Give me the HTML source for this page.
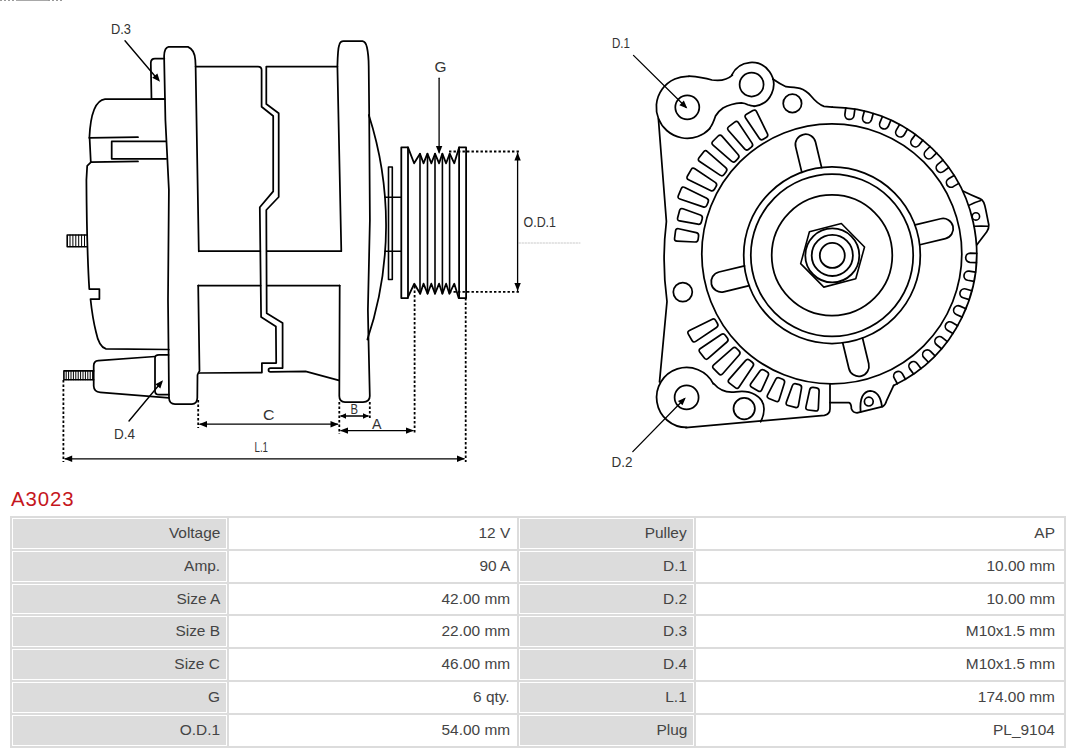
<!DOCTYPE html>
<html><head><meta charset="utf-8"><style>
html,body{margin:0;padding:0;background:#fff;width:1080px;height:753px;overflow:hidden;position:relative;font-family:"Liberation Sans",sans-serif;}
svg{position:absolute;left:0;top:0;}
.topline{position:absolute;left:0;top:0;width:64px;height:1px;background:repeating-linear-gradient(90deg,#999 0 2px,#fff 2px 4px);}.topline2{position:absolute;left:16px;top:0;width:32px;height:1px;background:#a8a8a8;}
h1{position:absolute;left:11px;top:485.5px;margin:0;font-weight:normal;font-size:20.4px;line-height:26px;color:#c5161d;letter-spacing:0.9px;}
.tbl{position:absolute;left:10px;top:516px;width:1056px;height:231.5px;background:#dcdcdc;}
.c{position:absolute;height:28.83px;border:1px solid #fff;background:#fff;box-sizing:content-box;font-size:14.2px;color:#444;text-align:right;line-height:28.83px;}
.c span{position:absolute;right:6px;top:0;white-space:nowrap;display:inline-block;transform:scaleX(1.087);transform-origin:100% 50%;}
.g{background:#dcdcdc;}
</style></head><body>
<div class="topline"></div><div class="topline2"></div>
<svg width="1080" height="480" viewBox="0 0 1080 480">
<g fill="none" stroke="#000" stroke-linecap="round" stroke-linejoin="round">
<path d="M164.7,99.2 L105,99.2 Q91,101 89.4,137.8" stroke-width="1.75" />
<path d="M89.4,137.8 L138,137.2" stroke-width="1.75" />
<path d="M89.6,138 L90.8,162.2" stroke-width="1.75" />
<path d="M91,162.2 L138,161.4" stroke-width="1.75" />
<path d="M165.6,141.4 L111.7,141.4 L111.7,158.8 L166.2,158.8" stroke-width="1.75" />
<path d="M91,162.2 L87.2,165.8 L86.4,180 Q86.8,250 89.3,289.1 L99.4,289.1 L99.4,299 L90.5,299 Q92.5,318 96,332 Q99,347 106,348.9 L168.8,349.5" stroke-width="1.75" />
<path d="M86.5,235 L67.2,235 L67.2,246.7 L86.5,246.7" stroke-width="1.6" />
<path d="M70,235 L70,246.7" stroke-width="1.0" />
<path d="M72.9,235 L72.9,246.7" stroke-width="1.0" />
<path d="M75.8,235 L75.8,246.7" stroke-width="1.0" />
<path d="M78.7,235 L78.7,246.7" stroke-width="1.0" />
<path d="M81.6,235 L81.6,246.7" stroke-width="1.0" />
<path d="M84.5,235 L84.5,246.7" stroke-width="1.0" />
<path d="M198.8,251.3 L195.6,66 L195.3,60 Q194.5,49.5 188,46.9 L168.5,46.9 Q164.5,47.5 164.1,56 L165.4,120 L168.9,190 L168.7,215 L168,300 L168.6,355 L169,398 Q169.3,404 175,404 L192,404 Q197,404 197.3,398 L197.5,375 Q198.5,372 199.5,371 L198.2,285.5" stroke-width="1.75" />
<path d="M164,99.2 L151.5,99.2 L150.8,63 Q150.8,58.6 155,58.6 L164.3,58.6" stroke-width="1.75" />
<path d="M195.6,66.5 L258,66.5 Q261.6,66.5 261.6,70 L261.6,106.7 L273.2,116 L273.2,191.4 L259.8,207.2 L261.1,317 L275.9,326.4 L276.2,363 L261.9,363 L261.9,372.6 L199.5,373" stroke-width="1.75" />
<path d="M337.4,66.5 L266.3,66.5 L266.3,104 L278.7,113.3 L278.7,197 L266.3,210 L266.7,313.3 L282.6,323 L282.6,368.1 L270.5,368.1 Q268.5,368.1 268.5,370 Q268.5,371.9 270.5,371.9 L305.6,371.4 L338.9,380.3" stroke-width="1.75" />
<path d="M199.3,251.1 L260.3,251.1 M266.8,251.1 L341.3,251.1" stroke-width="1.75" />
<path d="M198.2,285.5 L260.6,285.5 M266.8,285.5 L339.7,285.5" stroke-width="1.75" />
<path d="M341.3,251.1 L337.4,66 Q337.8,49 339.2,45 Q340.3,41.2 343.5,41.2 L362.5,41.2 Q365.8,41.8 367,47.5 Q368.6,55 368.7,66 L369.2,114.7 L369.9,220 L367.9,310 L368.5,340 L369.8,396 Q369.8,402 363,402 L345,402 Q339.3,402 339.3,396 L339.7,285.5" stroke-width="1.75" />
<path d="M368.8,115 A360,360 0 0 1 367.4,339.5" stroke-width="1.75" />
<path d="M388.5,279.5 L388.5,167 L392.3,167 L392.3,279.5 Z" stroke-width="1.6" />
<path d="M384.97,197.2 L401.3,197.2 M385.11,251.2 L401.3,251.2" stroke-width="1.6" />
<path d="M401.3,298.1 L401.3,147.4 L408,147.4 L408,298.1 Z" stroke-width="1.8" />
<path d="M459.1,298.1 L459.1,147.4 L466.1,147.4 L466.1,298.1 Z" stroke-width="1.8" />
<path d="M408,147.4 L414.1,163.3 L420,153.7 L423.5,163.3 L427.4,153.7 L431.4,163.3 L435,153.7 L439.1,163.3 L442.3,153.7 L446.1,163.3 L449.7,153.7 L454.3,163.3 L459.1,147.4" stroke-width="1.8" />
<path d="M408.3,296.3 L414.3,283.7 L420.2,293.7 L423.5,283.7 L427.6,293.7 L431.3,283.7 L435,293.7 L439.1,283.7 L442.4,293.7 L446.1,283.7 L449.4,293.7 L454.3,283.7 L458.7,298" stroke-width="1.8" />
<path d="M420,153.7 L420,293.7" stroke-width="1.6" />
<path d="M427.5,153.7 L427.5,293.7" stroke-width="1.6" />
<path d="M435,153.7 L435,293.7" stroke-width="1.6" />
<path d="M442.4,153.7 L442.4,293.7" stroke-width="1.6" />
<path d="M449.6,153.7 L449.6,293.7" stroke-width="1.6" />
<path d="M155,356.5 L98.3,360.7 Q93.7,361 93.7,366 L93.7,386 Q94,392 100.2,392.3 L169,397.8" stroke-width="1.75" />
<path d="M168.5,354.9 L159,354.9 Q155,354.9 155,358 L155,391 Q155,394.7 159,394.7 L168.8,394.7" stroke-width="1.75" />
<path d="M93.7,370.9 L63.9,370.9 L63.9,379.8 L93.7,379.8" stroke-width="1.6" />
<path d="M66.2,370.9 L66.2,379.8" stroke-width="1.0" />
<path d="M68.6,370.9 L68.6,379.8" stroke-width="1.0" />
<path d="M71,370.9 L71,379.8" stroke-width="1.0" />
<path d="M73.4,370.9 L73.4,379.8" stroke-width="1.0" />
<path d="M75.8,370.9 L75.8,379.8" stroke-width="1.0" />
<path d="M78.2,370.9 L78.2,379.8" stroke-width="1.0" />
<path d="M80.6,370.9 L80.6,379.8" stroke-width="1.0" />
<path d="M83,370.9 L83,379.8" stroke-width="1.0" />
<path d="M85.4,370.9 L85.4,379.8" stroke-width="1.0" />
<path d="M87.8,370.9 L87.8,379.8" stroke-width="1.0" />
<path d="M90.2,370.9 L90.2,379.8" stroke-width="1.0" />
<path d="M92.6,370.9 L92.6,379.8" stroke-width="1.0" />
<path d="M63.4,380 L63.4,462" stroke-width="1.8" stroke-dasharray="2.4,2.1" stroke-linecap="butt"/>
<path d="M198.2,400 L198.2,428" stroke-width="1.8" stroke-dasharray="2.4,2.1" stroke-linecap="butt"/>
<path d="M339.3,402 L339.3,434" stroke-width="1.8" stroke-dasharray="2.4,2.1" stroke-linecap="butt"/>
<path d="M369.8,402 L369.8,419" stroke-width="1.8" stroke-dasharray="2.4,2.1" stroke-linecap="butt"/>
<path d="M414.6,286 L414.6,433" stroke-width="1.8" stroke-dasharray="2.4,2.1" stroke-linecap="butt"/>
<path d="M465.7,298 L465.7,462" stroke-width="1.8" stroke-dasharray="2.4,2.1" stroke-linecap="butt"/>
<path d="M449,151.5 L519,151.5" stroke-width="1.8" stroke-dasharray="2.4,2.1" stroke-linecap="butt"/>
<path d="M449,291.9 L521,291.9" stroke-width="1.8" stroke-dasharray="2.4,2.1" stroke-linecap="butt"/>
<path d="M519,243 L580,243" stroke="#bbb" stroke-width="0.8" stroke-dasharray="1.5,1.5"/>
<path d="M200,424.2 L337.5,424.2" stroke-width="1.3" />
<path d="M199,424.2 L207,421 L207,427.4 Z" fill="#000" stroke="none"/>
<path d="M338.5,424.2 L330.5,427.4 L330.5,421 Z" fill="#000" stroke="none"/>
<path d="M341,416 L368,416" stroke-width="1.3" />
<path d="M340,416 L346,413.2 L346,418.8 Z" fill="#000" stroke="none"/>
<path d="M369,416 L363,418.8 L363,413.2 Z" fill="#000" stroke="none"/>
<path d="M341,430.6 L413,430.6" stroke-width="1.3" />
<path d="M340,430.6 L348,427.4 L348,433.8 Z" fill="#000" stroke="none"/>
<path d="M414,430.6 L406,433.8 L406,427.4 Z" fill="#000" stroke="none"/>
<path d="M65,458.8 L464,458.8" stroke-width="1.3" />
<path d="M64.2,458.8 L72.2,455.6 L72.2,462 Z" fill="#000" stroke="none"/>
<path d="M465,458.8 L457,462 L457,455.6 Z" fill="#000" stroke="none"/>
<path d="M517.6,153 L517.6,290.5" stroke-width="1.3" />
<path d="M517.6,152.5 L520.8,160.5 L514.4,160.5 Z" fill="#000" stroke="none"/>
<path d="M517.6,291 L514.4,283 L520.8,283 Z" fill="#000" stroke="none"/>
<path d="M439.1,78.2 L439.1,152" stroke-width="1.3" />
<path d="M439.1,154 L435.9,146 L442.3,146 Z" fill="#000" stroke="none"/>
<path d="M125,40.8 L157,78.5" stroke-width="1.4" />
<path d="M160,81.7 L152.22,77.83 L157.38,73.41 Z" fill="#000" stroke="none"/>
<path d="M129,421 L161.5,382" stroke-width="1.4" />
<path d="M163,380.2 L160.34,388.39 L155.42,384.3 Z" fill="#000" stroke="none"/>
<path d="M633.5,55.4 L686,107.2" stroke-width="1.3" />
<path d="M687.3,108.5 L679.36,105.16 L683.85,100.6 Z" fill="#000" stroke="none"/>
<path d="M632.8,451.6 L684.5,398.8" stroke-width="1.3" />
<path d="M685.8,397.4 L682.49,405.36 L677.92,400.88 Z" fill="#000" stroke="none"/>
<circle cx="832.3" cy="255.4" r="12.5" stroke-width="1.8"/>
<circle cx="832.3" cy="255.4" r="20.6" stroke-width="1.8"/>
<circle cx="832.3" cy="255.4" r="27" stroke-width="1.8"/>
<path d="M841.36,223.48 L864.53,246.98 L855.77,278.8 L823.84,287.12 L800.67,263.62 L809.43,231.8 Z" stroke-width="1.6" />
<circle cx="832" cy="255.2" r="60.3" stroke-width="1.75"/>
<circle cx="832" cy="255.2" r="81.2" stroke-width="1.75"/>
<circle cx="832" cy="255.2" r="88.3" stroke-width="1.75"/>
<path d="M919.87,244.74 L945.43,238.61 A10.2,10.2 0 0 0 940.67,218.77 L915.1,224.91" stroke-width="1.75" />
<path d="M842.76,342.97 L848.89,368.53 A10.2,10.2 0 0 0 868.73,363.77 L862.59,338.2" stroke-width="1.75" />
<path d="M744.53,265.86 L718.97,271.99 A10.2,10.2 0 0 0 723.73,291.83 L749.3,285.69" stroke-width="1.75" />
<path d="M821.64,167.63 L815.51,142.07 A10.2,10.2 0 0 0 795.67,146.83 L801.81,172.4" stroke-width="1.75" />
<circle cx="831.8" cy="253.9" r="130" stroke-width="1.75"/>
<path d="M698.58,235.99 Q698.94,233.22 696.21,232.62 L678.64,228.77 Q675.9,228.17 675.54,230.94 L674.57,238.28 Q674.21,241.06 677,241.18 L694.97,242.01 Q697.77,242.14 698.13,239.36 Z" stroke-width="1.7" />
<path d="M702.24,218.72 Q702.96,216.01 700.33,215.07 L682.94,208.82 Q680.3,207.87 679.58,210.57 L677.66,217.72 Q676.94,220.43 679.69,220.92 L697.88,224.21 Q700.64,224.71 701.36,222 Z" stroke-width="1.7" />
<path d="M708.13,202.07 Q709.2,199.48 706.69,198.24 L684.76,187.39 Q682.25,186.15 681.18,188.74 L678.34,195.58 Q677.27,198.16 679.92,199.06 L703.1,206.9 Q705.75,207.8 706.83,205.21 Z" stroke-width="1.7" />
<path d="M716.14,186.33 Q717.54,183.9 715.21,182.34 L694.88,168.73 Q692.56,167.17 691.16,169.6 L687.46,176 Q686.06,178.43 688.57,179.66 L710.52,190.46 Q713.04,191.7 714.44,189.27 Z" stroke-width="1.7" />
<path d="M726.13,171.77 Q727.84,169.55 725.73,167.7 L707.36,151.55 Q705.25,149.7 703.55,151.92 L699.04,157.79 Q697.34,160.01 699.67,161.56 L720.03,175.13 Q722.36,176.69 724.06,174.47 Z" stroke-width="1.7" />
<path d="M737.94,158.64 Q739.92,156.66 738.08,154.55 L721.97,136.14 Q720.12,134.03 718.14,136.01 L712.91,141.24 Q710.93,143.22 713.04,145.07 L731.45,161.18 Q733.56,163.02 735.54,161.04 Z" stroke-width="1.7" />
<path d="M751.37,147.16 Q753.59,145.46 752.03,143.13 L738.46,122.77 Q736.91,120.44 734.69,122.14 L728.82,126.65 Q726.6,128.35 728.45,130.46 L744.6,148.83 Q746.45,150.94 748.67,149.23 Z" stroke-width="1.7" />
<path d="M766.17,137.54 Q768.6,136.14 767.36,133.62 L756.56,111.67 Q755.33,109.16 752.9,110.56 L746.5,114.26 Q744.07,115.66 745.63,117.98 L759.24,138.31 Q760.8,140.64 763.23,139.24 Z" stroke-width="1.7" />
<path d="M813.09,387.44 Q810.31,387.07 809.71,389.8 L805.93,406.88 Q805.33,409.61 808.1,409.98 L815.44,410.94 Q818.22,411.31 818.34,408.51 L819.11,391.04 Q819.24,388.25 816.46,387.88 Z" stroke-width="1.7" />
<path d="M796.01,383.81 Q793.3,383.09 792.34,385.72 L786.37,402.15 Q785.42,404.79 788.12,405.51 L795.27,407.43 Q797.97,408.15 798.46,405.39 L801.51,388.17 Q801.99,385.42 799.29,384.69 Z" stroke-width="1.7" />
<path d="M779.54,377.99 Q776.95,376.92 775.66,379.4 L767.6,394.92 Q766.3,397.4 768.89,398.47 L775.73,401.3 Q778.32,402.37 779.16,399.7 L784.43,383.03 Q785.27,380.36 782.68,379.29 Z" stroke-width="1.7" />
<path d="M763.98,370.06 Q761.55,368.66 759.93,370.95 L750.94,383.57 Q749.32,385.85 751.75,387.25 L758.15,390.95 Q760.58,392.35 761.74,389.8 L768.18,375.71 Q769.35,373.16 766.92,371.76 Z" stroke-width="1.7" />
<path d="M749.58,360.18 Q747.36,358.47 745.51,360.58 L729.05,379.35 Q727.21,381.45 729.43,383.16 L735.3,387.66 Q737.52,389.37 739.08,387.04 L752.94,366.28 Q754.5,363.95 752.28,362.25 Z" stroke-width="1.7" />
<path d="M736.6,348.5 Q734.62,346.52 732.51,348.36 L713.74,364.82 Q711.64,366.67 713.62,368.65 L718.85,373.88 Q720.83,375.86 722.68,373.76 L739.14,354.99 Q740.98,352.88 739,350.9 Z" stroke-width="1.7" />
<path d="M725.25,335.22 Q723.55,333 721.22,334.56 L700.46,348.42 Q698.13,349.98 699.84,352.2 L704.34,358.07 Q706.05,360.29 708.15,358.45 L726.92,341.99 Q729.03,340.14 727.32,337.92 Z" stroke-width="1.7" />
<path d="M715.74,320.58 Q714.34,318.15 711.82,319.39 L689.43,330.43 Q686.92,331.67 688.32,334.1 L692.02,340.5 Q693.42,342.93 695.75,341.37 L716.51,327.5 Q718.84,325.95 717.44,323.52 Z" stroke-width="1.7" />
<path d="M832.24,107.21 A146.4,146.4 0 0 1 893.69,385.52" stroke-width="1.75" />
<path d="M962.9,191 Q972,195.5 980.4,198.9 Q984,200 985.8,209.9 L988.8,224.8 Q989,229 986.8,231.8 L976.9,244.7" stroke-width="1.75" />
<path d="M968.9,205.4 Q975,202 980.9,200.4" stroke-width="1.6" />
<path d="M974.4,226.3 Q981,226 987.8,226.3" stroke-width="1.6" />
<circle cx="975.9" cy="216.4" r="3.7" stroke-width="1.6"/>
<path d="M854.88,109.22 L854,115.56 A4.6,4.6 0 0 1 844.89,114.3 L845.77,107.96" stroke-width="1.7" />
<path d="M873.22,113.59 L871.53,119.76 A4.6,4.6 0 0 1 862.66,117.34 L864.34,111.16" stroke-width="1.7" />
<path d="M890.85,120.27 L888.38,126.18 A4.6,4.6 0 0 1 879.89,122.63 L882.36,116.73" stroke-width="1.7" />
<path d="M907.47,129.17 L904.27,134.71 A4.6,4.6 0 0 1 896.3,130.1 L899.51,124.56" stroke-width="1.7" />
<path d="M922.81,140.12 L918.92,145.21 A4.6,4.6 0 0 1 911.62,139.62 L915.51,134.53" stroke-width="1.7" />
<path d="M936.62,152.96 L932.11,157.5 A4.6,4.6 0 0 1 925.58,151.02 L930.09,146.48" stroke-width="1.7" />
<path d="M948.67,167.46 L943.61,171.39 A4.6,4.6 0 0 1 937.97,164.12 L943.03,160.2" stroke-width="1.7" />
<path d="M958.75,183.39 L953.23,186.64 A4.6,4.6 0 0 1 948.57,178.71 L954.09,175.46" stroke-width="1.7" />
<path d="M976.4,262.54 L970,262.35 A4.6,4.6 0 0 1 970.27,253.16 L976.67,253.35" stroke-width="1.7" />
<path d="M974.03,281.3 L967.71,280.28 A4.6,4.6 0 0 1 969.17,271.2 L975.48,272.21" stroke-width="1.7" />
<path d="M969.26,299.59 L963.13,297.77 A4.6,4.6 0 0 1 965.74,288.95 L971.88,290.77" stroke-width="1.7" />
<path d="M962.18,317.12 L956.33,314.53 A4.6,4.6 0 0 1 960.06,306.11 L965.91,308.71" stroke-width="1.7" />
<path d="M952.9,333.59 L947.43,330.26 A4.6,4.6 0 0 1 952.21,322.4 L957.68,325.73" stroke-width="1.7" />
<path d="M941.58,348.73 L936.58,344.72 A4.6,4.6 0 0 1 942.34,337.54 L947.33,341.55" stroke-width="1.7" />
<path d="M928.4,362.28 L923.96,357.67 A4.6,4.6 0 0 1 930.59,351.29 L935.03,355.9" stroke-width="1.7" />
<path d="M913.58,374.02 L909.78,368.88 A4.6,4.6 0 0 1 917.17,363.4 L920.98,368.55" stroke-width="1.7" />
<path d="M897.38,383.76 L894.27,378.17 A4.6,4.6 0 0 1 902.31,373.69 L905.42,379.28" stroke-width="1.7" />
<path d="M772.8,79 Q780,84 786,86.7 Q795,87.6 800,88.3 Q806,90 811,96 Q818,104.5 824,106.3 L832.2,107.2" stroke-width="1.75" />
<path d="M731.83,74.86 A22,22 0 1 1 754.05,106.36" stroke-width="1.75" />
<path d="M689,76.1 Q702,77 712,80 Q725,82 732.4,75.2" stroke-width="1.75" />
<path d="M688.92,76.34 A31,31 0 1 0 709.79,128.64" stroke-width="1.75" />
<path d="M709.6,128.5 Q713,124 715.5,116 Q718,111.5 723,108 Q731,103.5 741.4,102.8 Q745,103 747.8,104.8 Q751,106 754.2,106" stroke-width="1.75" />
<circle cx="687.3" cy="107.3" r="12" stroke-width="1.75"/>
<circle cx="751.6" cy="84.5" r="12" stroke-width="1.75"/>
<circle cx="792.4" cy="103.4" r="9.2" stroke-width="1.75"/>
<circle cx="682.8" cy="292.1" r="9.5" stroke-width="1.75"/>
<path d="M658.4,118.8 L666.4,221.5 Q661.5,261 667,301.5 L659.5,382" stroke-width="1.75" />
<path d="M713.33,383.78 A30,30 0 1 0 686.6,427.4" stroke-width="1.75" />
<path d="M713.6,383.5 C720,391 728,393 736,391.8 C750,389.5 764,396 764,409 C764,414 762.5,418.5 760.6,421.8" stroke-width="1.75" />
<circle cx="686.6" cy="397.4" r="12" stroke-width="1.75"/>
<circle cx="744.2" cy="408.6" r="10.7" stroke-width="1.75"/>
<path d="M685.8,427.6 L824.4,415.3 Q830,414 830,409 L830,384.3" stroke-width="1.75" />
<path d="M830,402.6 L848.9,402.6 Q851.4,403.5 851.4,408.7 Q853,412.8 857,412.8 L882.5,406.7 Q885.5,405 886.6,400.6 L893.7,385.3" stroke-width="1.75" />
<path d="M860.6,411.8 Q859,392 870.3,390.9 Q880,391.5 882,406.7" stroke-width="1.8" />
<circle cx="868.8" cy="401.6" r="4.4" stroke-width="1.7"/>
</g>
<g font-family="Liberation Sans, sans-serif" font-size="14.8" fill="#333">
<text x="111" y="34" textLength="20" lengthAdjust="spacingAndGlyphs">D.3</text>
<text x="612" y="48" textLength="18" lengthAdjust="spacingAndGlyphs">D.1</text>
<text x="434.5" y="72" textLength="12" lengthAdjust="spacingAndGlyphs">G</text>
<text x="523.5" y="226.5" textLength="32.5" lengthAdjust="spacingAndGlyphs">O.D.1</text>
<text x="263" y="419.5" textLength="11.5" lengthAdjust="spacingAndGlyphs">C</text>
<text x="350.5" y="413.5" textLength="7.5" lengthAdjust="spacingAndGlyphs">B</text>
<text x="372" y="428.5" textLength="9.5" lengthAdjust="spacingAndGlyphs">A</text>
<text x="254.5" y="451.5" textLength="13.5" lengthAdjust="spacingAndGlyphs">L.1</text>
<text x="114" y="438.5" textLength="21" lengthAdjust="spacingAndGlyphs">D.4</text>
<text x="611.5" y="466.5" textLength="21" lengthAdjust="spacingAndGlyphs">D.2</text>
</g>
</svg>
<h1>A3023</h1>
<div class="tbl"></div>
<div class="c g" style="left:12px;top:518px;width:213px;"><span>Voltage</span></div>
<div class="c" style="left:229px;top:518px;width:286px;"><span>12 V</span></div>
<div class="c g" style="left:519px;top:518px;width:173px;"><span>Pulley</span></div>
<div class="c" style="left:696px;top:518px;width:366px;"><span style="right:8px">AP</span></div>
<div class="c g" style="left:12px;top:550.83px;width:213px;"><span>Amp.</span></div>
<div class="c" style="left:229px;top:550.83px;width:286px;"><span>90 A</span></div>
<div class="c g" style="left:519px;top:550.83px;width:173px;"><span>D.1</span></div>
<div class="c" style="left:696px;top:550.83px;width:366px;"><span style="right:8px">10.00 mm</span></div>
<div class="c g" style="left:12px;top:583.66px;width:213px;"><span>Size A</span></div>
<div class="c" style="left:229px;top:583.66px;width:286px;"><span>42.00 mm</span></div>
<div class="c g" style="left:519px;top:583.66px;width:173px;"><span>D.2</span></div>
<div class="c" style="left:696px;top:583.66px;width:366px;"><span style="right:8px">10.00 mm</span></div>
<div class="c g" style="left:12px;top:616.49px;width:213px;"><span>Size B</span></div>
<div class="c" style="left:229px;top:616.49px;width:286px;"><span>22.00 mm</span></div>
<div class="c g" style="left:519px;top:616.49px;width:173px;"><span>D.3</span></div>
<div class="c" style="left:696px;top:616.49px;width:366px;"><span style="right:8px">M10x1.5 mm</span></div>
<div class="c g" style="left:12px;top:649.32px;width:213px;"><span>Size C</span></div>
<div class="c" style="left:229px;top:649.32px;width:286px;"><span>46.00 mm</span></div>
<div class="c g" style="left:519px;top:649.32px;width:173px;"><span>D.4</span></div>
<div class="c" style="left:696px;top:649.32px;width:366px;"><span style="right:8px">M10x1.5 mm</span></div>
<div class="c g" style="left:12px;top:682.15px;width:213px;"><span>G</span></div>
<div class="c" style="left:229px;top:682.15px;width:286px;"><span>6 qty.</span></div>
<div class="c g" style="left:519px;top:682.15px;width:173px;"><span>L.1</span></div>
<div class="c" style="left:696px;top:682.15px;width:366px;"><span style="right:8px">174.00 mm</span></div>
<div class="c g" style="left:12px;top:714.98px;width:213px;"><span>O.D.1</span></div>
<div class="c" style="left:229px;top:714.98px;width:286px;"><span>54.00 mm</span></div>
<div class="c g" style="left:519px;top:714.98px;width:173px;"><span>Plug</span></div>
<div class="c" style="left:696px;top:714.98px;width:366px;"><span style="right:8px">PL_9104</span></div>
</body></html>
